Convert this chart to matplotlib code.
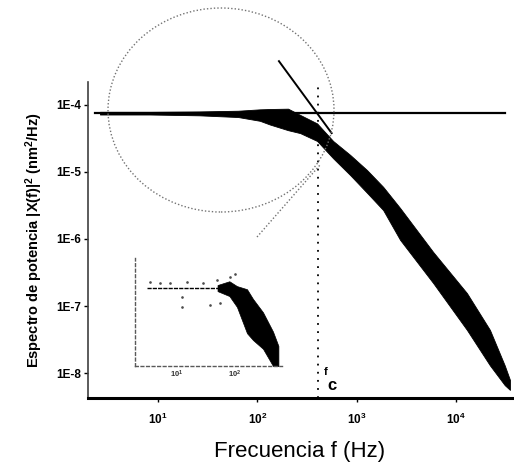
import matplotlib
matplotlib.use("Agg")
import matplotlib.pyplot as plt
from matplotlib.patches import Ellipse
from matplotlib.lines import Line2D
from matplotlib.ticker import FixedLocator, FixedFormatter, NullLocator

plt.rcParams['font.family'] = ['Liberation Sans', 'DejaVu Sans']
plt.rcParams['mathtext.fontset'] = 'custom'
plt.rcParams['mathtext.rm'] = 'Liberation Sans'
plt.rcParams['mathtext.bf'] = 'Liberation Sans:bold'
plt.rcParams['mathtext.it'] = 'Liberation Sans:italic'

# power spectrum band (upper / lower edge of the measured points), f in Hz, PSD in nm^2/Hz
freq = [2.6, 8.3, 26, 64, 106, 134, 204, 270, 400, 580, 860, 1270, 1850, 2740,
        5900, 12900, 22000, 31000, 35000]
psd_high = [7.9e-5, 7.9e-5, 8.0e-5, 8.2e-5, 8.6e-5, 8.7e-5, 8.8e-5, 7.1e-5, 5.3e-5, 2.9e-5,
            1.8e-5, 1.07e-5, 6.0e-6, 2.9e-6, 6.4e-7, 1.56e-7, 4.4e-8, 1.3e-8, 7.9e-9]
psd_low = [7.2e-5, 7.2e-5, 7.0e-5, 6.6e-5, 5.8e-5, 5.1e-5, 4.2e-5, 3.8e-5, 2.9e-5, 1.6e-5,
           9.0e-6, 4.9e-6, 2.7e-6, 9.7e-7, 2.2e-7, 4.4e-8, 1.3e-8, 6.6e-9, 5.6e-9]

# plateau and high-frequency asymptote
plateau_f = [2.3, 31000]
plateau_p = [7.6e-5, 7.6e-5]
asym_f = [165, 560]
asym_p = [4.5e-4, 3.8e-5]
fc = 408

# inset spectrum
ins_line_f = [3.0, 55]
ins_line_p = [7.6e-5, 7.6e-5]
ins_f = [50, 80, 108, 161, 204, 304, 452, 560]
ins_high = [9.0e-5, 1.1e-4, 8.5e-5, 7.2e-5, 4.3e-5, 2.1e-5, 7.5e-6, 3.5e-6]
ins_low = [6.5e-5, 5.0e-5, 2.8e-5, 6.9e-6, 4.8e-6, 3.0e-6, 1.2e-6, 1.2e-6]
ins_dots_f = [3.4, 5.1, 7.6, 14.7, 28, 48, 82, 100, 12, 12, 37, 55]
ins_dots_p = [1.06e-4, 9.8e-5, 1.0e-4, 1.06e-4, 9.8e-5, 1.16e-4, 1.39e-4, 1.66e-4,
              4.8e-5, 2.8e-5, 3.1e-5, 3.4e-5]

xticks = [10, 100, 1000, 10000]
xticklabels = [r'$\mathbf{10^{1}}$', r'$\mathbf{10^{2}}$', r'$\mathbf{10^{3}}$', r'$\mathbf{10^{4}}$']
yticks = [1e-4, 1e-5, 1e-6, 1e-7, 1e-8]
yticklabels = ['1E-4', '1E-5', '1E-6', '1E-7', '1E-8']

W, H = 514, 462
fig = plt.figure(figsize=(W / 100, H / 100), dpi=100)
ax = fig.add_axes([88 / W, 64 / H, 424 / W, 316 / H])
ax.set_xscale('log')
ax.set_yscale('log')
ax.set_xlim(1.97, 36700)
ax.set_ylim(4.24e-9, 2.2e-4)

ax.fill_between(freq, psd_low, psd_high, color='k', lw=0.6, edgecolor='k', zorder=3)
ax.plot(plateau_f, plateau_p, color='k', lw=1.6, zorder=4)
ax.plot(asym_f, asym_p, color='k', lw=1.4, zorder=4, clip_on=False)
ax.axvline(fc, color='k', ls=(0, (1, 3.5)), lw=1.3, zorder=2)
ax.text(470, 8.8e-9, 'f', fontsize=8, fontweight='bold', ha='left', va='bottom')
ax.text(505, 8.3e-9, 'c', fontsize=12, fontweight='bold', ha='left', va='top')

for s in ['top', 'right']:
    ax.spines[s].set_visible(False)
ax.spines['bottom'].set_linewidth(2.2)
ax.spines['left'].set_linewidth(1.2)
ax.spines['left'].set_color('0.25')

ax.xaxis.set_major_locator(FixedLocator(xticks))
ax.xaxis.set_major_formatter(FixedFormatter(xticklabels))
ax.yaxis.set_major_locator(FixedLocator(yticks))
ax.yaxis.set_major_formatter(FixedFormatter(yticklabels))
ax.xaxis.set_minor_locator(NullLocator())
ax.yaxis.set_minor_locator(NullLocator())
ax.tick_params(axis='x', direction='out', length=3, width=1, pad=7, labelsize=8.5)
ax.tick_params(axis='y', direction='out', length=3, width=1, pad=2, labelsize=8.5)
for lbl in ax.get_yticklabels():
    lbl.set_fontweight('bold')

ax.set_xlabel('Frecuencia f (Hz)', fontsize=16, labelpad=10)
ax.set_ylabel(r'Espectro de potencia |X(f)|$^\mathbf{2}$ (nm$^\mathbf{2}$/Hz)',
              fontsize=10.5, fontweight='bold', labelpad=8)

# zoom circle and connector around the corner frequency
circle = Ellipse((221 / W, 1 - 110 / H), 226 / W, 204 / H, transform=fig.transFigure,
                 fill=False, ec='0.45', lw=1.0, ls=(0, (1, 1.5)))
fig.add_artist(circle)
fig.add_artist(Line2D([257 / W, 320 / W], [1 - 237 / H, 1 - 165 / H],
                      transform=fig.transFigure, color='0.45', lw=1.0, ls=(0, (1, 1.5))))

# inset
axi = fig.add_axes([135 / W, 1 - 366 / H, 147 / W, 108 / H])
axi.set_facecolor('none')
axi.set_xscale('log')
axi.set_yscale('log')
axi.set_xlim(1.89, 646)
axi.set_ylim(1.2e-6, 3.8e-4)
axi.plot(ins_line_f, ins_line_p, color='k', lw=1.0, ls=(0, (3, 0.8)))
axi.fill_between(ins_f, ins_low, ins_high, color='k', lw=0.5, edgecolor='k')
axi.plot(ins_dots_f, ins_dots_p, ls='none', marker='.', ms=1.8, color='0.3')
for s in ['top', 'right']:
    axi.spines[s].set_visible(False)
for s in ['left', 'bottom']:
    axi.spines[s].set_color('0.35')
    axi.spines[s].set_linestyle((0, (2, 2)))
    axi.spines[s].set_linewidth(1.0)
axi.xaxis.set_major_locator(FixedLocator([10, 100]))
axi.xaxis.set_major_formatter(FixedFormatter([r'$\mathbf{10^{1}}$', r'$\mathbf{10^{2}}$']))
axi.xaxis.set_minor_locator(NullLocator())
axi.yaxis.set_major_locator(NullLocator())
axi.yaxis.set_minor_locator(NullLocator())
axi.tick_params(axis='x', length=0, pad=2, labelsize=5.5, labelcolor='0.2')

fig.savefig('out.png', dpi=100)
